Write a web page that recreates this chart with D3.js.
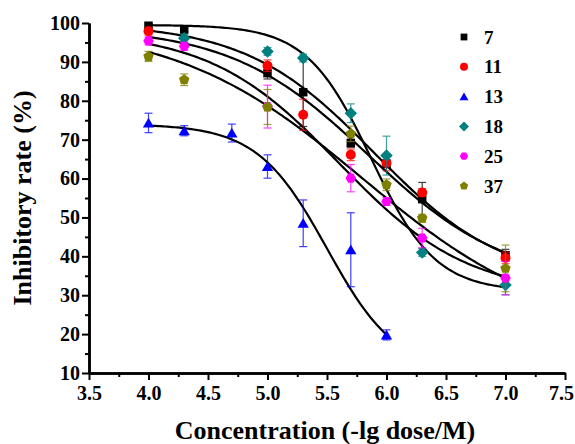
<!DOCTYPE html>
<html>
<head>
<meta charset="utf-8">
<script src="https://cdn.jsdelivr.net/npm/d3@7"></script>
<style>
  html, body { margin: 0; padding: 0; background: #fff; overflow: hidden; }
  svg { display: block; }
  svg text { font-family: "Liberation Serif", "Times New Roman", Times, serif; font-weight: bold; }
  .axis path, .axis line { stroke: #000; }
  .axis text { fill: #000; }
</style>
</head>
<body>
<div id="chart"></div>
<script>
// Inhibitory rate vs concentration, six compounds
// Points with error bars, each with a dose-response fit curve

var FONT = '"Liberation Serif", "Times New Roman", Times, serif';

// Compound names (legend)
var names = ["7", "11", "13", "18", "25", "37"];

// Concentration (-lg dose/M) for each compound
var conc7  = [4.0, 4.3, 5.0, 5.3, 5.7, 6.0, 6.3, 7.0];
var conc11 = [4.0, 5.0, 5.3, 5.7, 6.0, 6.3, 7.0];
var conc13 = [4.0, 4.3, 4.7, 5.0, 5.3, 5.7, 6.0];
var conc18 = [4.3, 5.0, 5.3, 5.7, 6.0, 6.3, 7.0];
var conc25 = [4.0, 4.3, 5.0, 5.7, 6.0, 6.3, 7.0];
var conc37 = [4.0, 4.3, 5.0, 5.7, 6.0, 6.3, 7.0];

// Inhibitory rate (%)
var rate7  = [99.3, 98.3, 87.1, 82.2, 69.1, 63.8, 54.7, 40.3];
var rate11 = [97.9, 89.0, 76.4, 66.1, 64.0, 56.4, 39.6];
var rate13 = [74.3, 72.3, 71.7, 63.1, 48.5, 41.7, 19.8];
var rate18 = [96.1, 92.7, 91.0, 76.8, 65.9, 41.0, 32.6];
var rate25 = [95.4, 94.0, 78.5, 60.1, 54.1, 44.7, 34.4];
var rate37 = [91.4, 85.4, 78.4, 71.5, 58.4, 49.8, 36.9];

// Error (+/-)
var err7  = [0.5, 0.5, 1.5, 8.8, 1.0, 1.0, 4.3, 1.5];
var err11 = [1.0, 1.5, 4.0, 1.5, 2.0, 1.0, 1.5];
var err13 = [2.5, 1.3, 2.3, 3.0, 6.0, 9.5, 1.3];
var err18 = [1.0, 1.0, 1.0, 2.4, 5.0, 1.0, 2.5];
var err25 = [1.0, 1.0, 5.5, 3.5, 1.0, 2.5, 4.3];
var err37 = [1.3, 1.5, 4.5, 2.0, 1.5, 1.0, 6.0];

// Dose-response fit parameters
// y = top + (bottom - top) / (1 + 10^((logx0 - x) * hill))
var fitTop    = [100, 99, 74, 99.5, 98, 100];
var fitBottom = [33, 33, 10, 31, 30, 20];
var fitLogX0  = [5.9, 5.85, 5.5, 5.87, 5.6, 5.8];
var fitHill   = [0.8, 0.75, 1.48, 1.6, 0.8, 0.55];
var fitFrom   = [4.0, 4.0, 4.0, 4.0, 4.0, 4.0];
var fitTo     = [7.0, 7.0, 6.0, 7.0, 7.0, 7.0];

// Axis ticks
var xTicks = [3.5, 4.0, 4.5, 5.0, 5.5, 6.0, 6.5, 7.0, 7.5];
var xMinor = [3.75, 4.25, 4.75, 5.25, 5.75, 6.25, 6.75, 7.25];
var yTicks = [10, 20, 30, 40, 50, 60, 70, 80, 90, 100];
var yMinor = [15, 25, 35, 45, 55, 65, 75, 85, 95];

var colors = ["#000000", "#ff0000", "#0000ff", "#008080", "#ff00ff", "#808000"];
var shapes = ["square", "circle", "triangle", "diamond", "hexagon", "pentagon"];

var concs = [conc7, conc11, conc13, conc18, conc25, conc37];
var rates = [rate7, rate11, rate13, rate18, rate25, rate37];
var errs  = [err7, err11, err13, err18, err25, err37];

var outerWidth = 575, outerHeight = 444;
var margin = {top: 23, right: 10, bottom: 71, left: 89};
var innerWidth = outerWidth - margin.left - margin.right;
var innerHeight = outerHeight - margin.top - margin.bottom;

var svg = d3.select("#chart").append("svg")
    .attr("width", outerWidth)
    .attr("height", outerHeight)
    .attr("font-family", FONT)
    .attr("font-weight", "bold");

var g = svg.append("g")
    .attr("transform", "translate(" + margin.left + "," + margin.top + ")");

var x = d3.scaleLinear().domain([3.5, 7.5]).range([0, innerWidth]);
var y = d3.scaleLinear().domain([10, 100]).range([innerHeight, 0]);

// Marker path for a shape, centred on 0,0
function markerPath(shape, r) {
  var pts = [];
  var n, rot;
  if (shape === "circle") {
    return d3.symbol().type(d3.symbolCircle).size(Math.PI * r * r)();
  }
  if (shape === "square") { n = 4; rot = Math.PI / 4; r = r * 1.2; }
  if (shape === "diamond") { n = 4; rot = 0; r = r * 1.25; }
  if (shape === "triangle") { n = 3; rot = 0; r = r * 1.3; }
  if (shape === "hexagon") { n = 6; rot = Math.PI / 6; r = r * 1.05; }
  if (shape === "pentagon") { n = 5; rot = 0; r = r * 1.1; }
  for (var i = 0; i < n; i++) {
    var a = rot + i * 2 * Math.PI / n;
    var px = r * Math.sin(a), py = -r * Math.cos(a);
    if (shape === "triangle") { py += r * 0.2; }
    pts.push([px, py]);
  }
  return "M" + pts.join("L") + "Z";
}

// Axes
var xAxis = d3.axisBottom(x).tickValues(xTicks).tickFormat(d3.format(".1f"))
    .tickSize(7).tickSizeOuter(0).tickPadding(6);
var xAxisMinor = d3.axisBottom(x).tickValues(xMinor).tickFormat("")
    .tickSize(4).tickSizeOuter(0);
var yAxis = d3.axisLeft(y).tickValues(yTicks).tickSize(7).tickSizeOuter(0).tickPadding(2);
var yAxisMinor = d3.axisLeft(y).tickValues(yMinor).tickFormat("")
    .tickSize(4).tickSizeOuter(0);

g.append("g").attr("class", "x axis")
    .attr("transform", "translate(0," + innerHeight + ")")
    .call(xAxisMinor);
g.append("g").attr("class", "x axis")
    .attr("transform", "translate(0," + innerHeight + ")")
    .call(xAxis);
g.append("g").attr("class", "y axis").call(yAxisMinor);
g.append("g").attr("class", "y axis").call(yAxis);

// d3 axis puts sans-serif on its group; put the serif back
g.selectAll(".axis").attr("font-family", FONT).attr("font-size", 20);
g.selectAll(".axis path").attr("stroke-width", 2.5);
g.selectAll(".axis line").attr("stroke-width", 2);
// last label sits on the right edge
g.selectAll(".x.axis .tick text").filter(function (d) { return d === 7.5; })
    .attr("dx", -4);

// Axis titles
svg.append("text")
    .attr("x", margin.left + x(5.5) - 2)
    .attr("y", 439)
    .attr("text-anchor", "middle")
    .attr("font-size", 26)
    .text("Concentration (-lg dose/M)");

svg.append("text")
    .attr("transform", "translate(31," + (margin.top + y(55)) + ") rotate(-90)")
    .attr("text-anchor", "middle")
    .attr("font-size", 26)
    .text("Inhibitory rate (%)");

// Fit curves
var line = d3.line()
    .x(function (d) { return x(d[0]); })
    .y(function (d) { return y(d[1]); });

for (var s = 0; s < names.length; s++) {
  var curve = d3.range(fitFrom[s], fitTo[s] + 0.001, 0.02).map(function (c) {
    var v = fitTop[s] + (fitBottom[s] - fitTop[s]) /
        (1 + Math.pow(10, (fitLogX0[s] - c) * fitHill[s]));
    return [c, v];
  });
  g.append("path")
      .attr("d", line(curve))
      .attr("fill", "none")
      .attr("stroke", "#000")
      .attr("stroke-width", 2.2);
}

// Error bars and points, in legend order so 37 ends on top
for (var k = 0; k < names.length; k++) {
  var pts = concs[k].map(function (c, i) {
    return {c: c, v: rates[k][i], e: errs[k][i]};
  });
  var grp = g.append("g").attr("class", "series s" + names[k]);

  var eb = grp.selectAll(".err").data(pts).enter().append("g").attr("class", "err")
      .attr("stroke", colors[k]).attr("stroke-width", 1.2).attr("opacity", 0.75);
  eb.append("line")
      .attr("x1", function (d) { return x(d.c); })
      .attr("x2", function (d) { return x(d.c); })
      .attr("y1", function (d) { return y(d.v + d.e); })
      .attr("y2", function (d) { return y(d.v - d.e); });
  eb.append("line")
      .attr("x1", function (d) { return x(d.c) - 4; })
      .attr("x2", function (d) { return x(d.c) + 4; })
      .attr("y1", function (d) { return y(d.v + d.e); })
      .attr("y2", function (d) { return y(d.v + d.e); });
  eb.append("line")
      .attr("x1", function (d) { return x(d.c) - 4; })
      .attr("x2", function (d) { return x(d.c) + 4; })
      .attr("y1", function (d) { return y(d.v - d.e); })
      .attr("y2", function (d) { return y(d.v - d.e); });

  grp.selectAll(".pt").data(pts).enter().append("path")
      .attr("class", "pt")
      .attr("transform", function (d) {
        return "translate(" + x(d.c) + "," + y(d.v) + ")";
      })
      .attr("d", markerPath(shapes[k], 5))
      .attr("fill", colors[k]);
}

// Legend
var legend = svg.append("g").attr("class", "legend");
names.forEach(function (nm, i) {
  var ly = 37 + i * 29.8;
  legend.append("path")
      .attr("transform", "translate(464," + ly + ")")
      .attr("d", markerPath(shapes[i], 4))
      .attr("fill", colors[i]);
  legend.append("text")
      .attr("x", 484)
      .attr("y", ly + 6.5)
      .attr("font-size", 19)
      .text(nm);
});
</script>
</body>
</html>
